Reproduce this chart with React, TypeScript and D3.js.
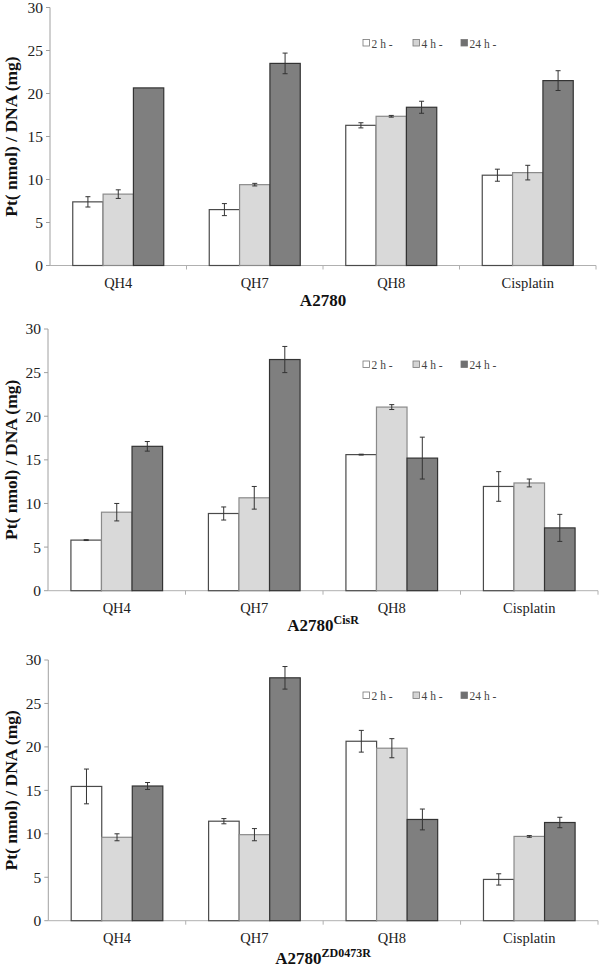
import React from "react";
import * as d3 from "d3";

const categories = ["QH4", "QH7", "QH8", "Cisplatin"];
const seriesNames = ["2 h -", "4 h -", "24 h -"];
const yTicks = [0, 5, 10, 15, 20, 25, 30];

// values per series [2h, 4h, 24h], per category
const a2780Values = [
  [7.4, 6.5, 16.3, 10.5],
  [8.3, 9.4, 17.35, 10.8],
  [20.65, 23.5, 18.4, 21.5],
];
const a2780Errors = [
  [0.6, 0.7, 0.3, 0.7],
  [0.5, 0.15, 0.1, 0.85],
  [0, 1.2, 0.7, 1.15],
];
const cisRValues = [
  [5.8, 8.85, 15.6, 11.95],
  [9.0, 10.65, 21.05, 12.35],
  [16.55, 26.5, 15.2, 7.2],
];
const cisRErrors = [
  [0.05, 0.75, 0.05, 1.7],
  [1.0, 1.3, 0.28, 0.45],
  [0.55, 1.5, 2.4, 1.55],
];
const zdValues = [
  [15.45, 11.45, 20.65, 4.75],
  [9.6, 9.9, 19.85, 9.7],
  [15.5, 27.95, 11.65, 11.3],
];
const zdErrors = [
  [2.0, 0.3, 1.25, 0.65],
  [0.4, 0.7, 1.1, 0.1],
  [0.4, 1.3, 1.2, 0.6],
];

const fills = ["#ffffff", "#d9d9d9", "#7f7f7f"];
const strokes = ["#4a4a4a", "#8a8a8a", "#333333"];
const legendFills = ["#ffffff", "#d4d4d4", "#707070"];

const FONT = "Liberation Serif, DejaVu Serif, Times New Roman, serif";

interface PanelProps {
  values: number[][];
  errors: number[][];
  title: string;
  sup?: string;
  x0: number;
  x1: number;
  yZero: number;
  yTop: number;
  legendY: number;
  titleY: number;
}

function Panel({ values, errors, title, sup, x0, x1, yZero, yTop, legendY, titleY }: PanelProps) {
  const x = d3.scaleBand<string>().domain(categories).range([x0, x1]).paddingInner(1 / 3).paddingOuter(1 / 6);
  const xs = d3.scaleBand<string>().domain(seriesNames).range([0, x.bandwidth()]).padding(0);
  const y = d3.scaleLinear().domain([0, 30]).range([yZero, yTop]);
  const step = x.step();
  const cx = (x0 + x1) / 2;
  const legendXs = [363, 413, 461];
  const tf = { fontFamily: FONT };
  return (
    <g>
      {/* y axis */}
      <line x1={x0} x2={x0} y1={yTop} y2={yZero} stroke="#a0a0a0" strokeWidth={1} />
      {yTicks.map((t) => (
        <g key={t}>
          <line x1={x0 - 4} x2={x0} y1={y(t)} y2={y(t)} stroke="#a0a0a0" />
          <text x={x0 - 7} y={y(t)} dy="0.35em" textAnchor="end" fontSize={15.5} style={tf} fill="#222">
            {t}
          </text>
        </g>
      ))}
      {/* x axis */}
      <line x1={x0} x2={x1} y1={yZero} y2={yZero} stroke="#b0b0b0" strokeWidth={1} />
      {categories.map((c, i) => (
        <line key={c} x1={x0 + step * (i + 1)} x2={x0 + step * (i + 1)} y1={yZero} y2={yZero + 4} stroke="#b0b0b0" />
      ))}
      {categories.map((c) => (
        <text key={c} x={(x(c) as number) + x.bandwidth() / 2} y={yZero + 22} textAnchor="middle" fontSize={14.5} style={tf} fill="#222">
          {c}
        </text>
      ))}
      {/* bars */}
      {seriesNames.map((s, si) =>
        categories.map((c, ci) => {
          const v = values[si][ci];
          const bx = (x(c) as number) + (xs(s) as number);
          const bw = xs.bandwidth();
          return (
            <rect key={s + c} x={bx} y={y(v)} width={bw} height={yZero - y(v)} fill={fills[si]} stroke={strokes[si]} strokeWidth={1.2} />
          );
        })
      )}
      {/* error bars */}
      {seriesNames.map((s, si) =>
        categories.map((c, ci) => {
          const v = values[si][ci];
          const e = errors[si][ci];
          if (e <= 0) return null;
          const mx = (x(c) as number) + (xs(s) as number) + xs.bandwidth() / 2;
          return (
            <g key={"e" + s + c} stroke="#333" strokeWidth={1}>
              <line x1={mx} x2={mx} y1={y(v + e)} y2={y(v - e)} />
              <line x1={mx - 2.5} x2={mx + 2.5} y1={y(v + e)} y2={y(v + e)} />
              <line x1={mx - 2.5} x2={mx + 2.5} y1={y(v - e)} y2={y(v - e)} />
            </g>
          );
        })
      )}
      {/* legend */}
      {seriesNames.map((s, si) => (
        <g key={"l" + s}>
          <rect x={legendXs[si]} y={legendY - 4} width={6.5} height={6.5} fill={legendFills[si]} stroke="#777" strokeWidth={0.8} />
          <text x={legendXs[si] + 8.5} y={legendY} dy="0.35em" fontSize={11.5} style={tf} fill="#444">
            {s}
          </text>
        </g>
      ))}
      {/* y label */}
      <text
        transform={`translate(${11},${(yZero + yTop) / 2}) rotate(-90)`}
        textAnchor="middle"
        dy="0.35em"
        fontSize={17.5}
        fontWeight="bold"
        style={tf}
        fill="#111"
      >
        Pt( nmol) / DNA (mg)
      </text>
      {/* title */}
      <text x={cx} y={titleY} textAnchor="middle" fontSize={17} fontWeight="bold" style={tf} fill="#111">
        {title}
        {sup ? (
          <tspan fontSize={12} dy={-7}>
            {sup}
          </tspan>
        ) : null}
      </text>
    </g>
  );
}

export default function App() {
  return (
    <svg width={600} height={972} style={{ position: "absolute", left: 0, top: 0, background: "#fff" }}>
      <rect width={600} height={972} fill="#fff" />
      <Panel values={a2780Values} errors={a2780Errors} title="A2780" x0={50} x1={596} yZero={265.5} yTop={7.5} legendY={43.5} titleY={306} />
      <Panel values={cisRValues} errors={cisRErrors} title="A2780" sup="CisR" x0={48} x1={598} yZero={590.7} yTop={329} legendY={365} titleY={631} />
      <Panel values={zdValues} errors={zdErrors} title="A2780" sup="ZD0473R" x0={48.3} x1={598} yZero={920.7} yTop={660} legendY={696} titleY={964} />
    </svg>
  );
}
